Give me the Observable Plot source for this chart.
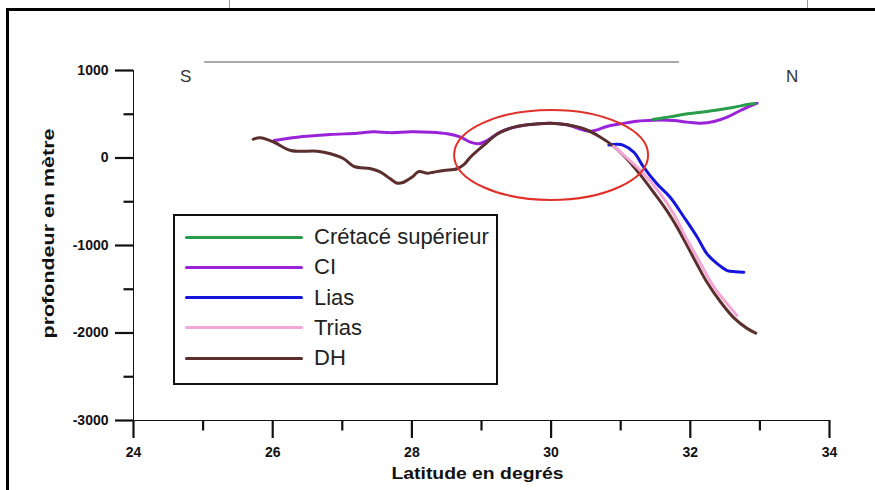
<!DOCTYPE html>
<html>
<head>
<meta charset="utf-8">
<script src="https://cdn.jsdelivr.net/npm/d3@7"></script>
<script src="https://cdn.jsdelivr.net/npm/@observablehq/plot@0.6"></script>
<style>
  html, body { margin: 0; padding: 0; background: #fff; }
  #wrap { position: relative; width: 875px; height: 490px; overflow: hidden; font-family: "Liberation Sans", Arial, sans-serif; }
  #wrap svg { position: absolute; left: 0; top: 0; }
  .frame { position: absolute; left: 6px; top: 8px; width: 880px; height: 500px; border-top: 3px solid #000; border-left: 3px solid #000; }
  .cell { position: absolute; top: 0; width: 1px; height: 8px; background: #999; }
  .gray { position: absolute; left: 204px; top: 61px; width: 475px; height: 2px; background: #aaa; }
  .dir { position: absolute; top: 67px; font-size: 17px; color: #333; }
  .legend { position: absolute; left: 173px; top: 214px; width: 321px; height: 167px; border: 2px solid #111; background: #fff; }
  .lg-line { position: absolute; left: 185px; width: 118px; height: 3px; border-radius: 2px; }
  .lg-text { position: absolute; left: 314px; font-size: 22px; color: #222; line-height: 22px; }
</style>
</head>
<body>
<div id="wrap"></div>
<script>
// ---- data ----
const seriesNames  = ["Crétacé supérieur", "CI", "Lias", "Trias", "DH"];
const seriesColors = ["#2a9d4a", "#9a22d8", "#1515dd", "#f4a6d4", "#5c2f2f"];
const drawOrder    = ["CI", "Crétacé supérieur", "Lias", "DH", "Trias"];

const cretaceLat   = [31.46, 31.70, 31.96, 32.34, 32.63, 32.82, 32.93];
const cretaceDepth = [440, 470, 505, 543, 581, 611, 622];

const ciLat   = [26.02, 26.35, 26.83, 27.21, 27.45, 27.69, 27.98, 28.27, 28.51, 28.70, 28.84, 28.96, 29.08, 29.18, 29.27, 29.42, 29.66, 29.99, 30.23, 30.45, 30.57, 30.66, 30.80, 31.00, 31.23, 31.48, 31.76, 31.96, 32.15, 32.34, 32.53, 32.72, 32.96];
const ciDepth = [200, 238, 268, 283, 300, 290, 300, 295, 277, 238, 181, 162, 200, 250, 295, 341, 379, 398, 379, 322, 306, 322, 360, 390, 421, 432, 429, 410, 398, 417, 467, 543, 626];

const liasLat   = [30.83, 30.95, 31.04, 31.19, 31.33, 31.52, 31.71, 31.91, 32.10, 32.24, 32.39, 32.53, 32.65, 32.77];
const liasDepth = [148, 156, 145, 66, -105, -295, -448, -677, -905, -1095, -1210, -1286, -1300, -1305];

const triasLat   = [30.90, 31.09, 31.33, 31.57, 31.76, 31.96, 32.15, 32.34, 32.53, 32.67];
const triasDepth = [133, 0, -181, -410, -638, -943, -1210, -1476, -1667, -1800];

const dhLat   = [25.72, 25.82, 26.02, 26.26, 26.64, 26.83, 27.02, 27.17, 27.41, 27.55, 27.69, 27.79, 27.88, 28.00, 28.10, 28.22, 28.31, 28.46, 28.65, 28.75, 28.84, 29.03, 29.23, 29.42, 29.66, 29.99, 30.23, 30.47, 30.71, 30.90, 31.09, 31.28, 31.48, 31.67, 31.81, 31.96, 32.10, 32.24, 32.43, 32.63, 32.82, 32.94];
const dhDepth = [214, 232, 180, 86, 77, 48, -9, -97, -123, -162, -238, -288, -277, -220, -154, -174, -162, -143, -123, -74, 9, 143, 277, 341, 379, 398, 379, 334, 238, 133, -10, -190, -400, -610, -790, -1010, -1220, -1420, -1640, -1830, -1950, -2002];

const ellipseCenter = [{lat: 30.0, depth: 35}];

const xTicks = [24, 26, 28, 30, 32, 34];
const xMinorTicks = [25, 27, 29, 31, 33];
const yTicks = [1000, 0, -1000, -2000, -3000];
const yMinorTicks = [500, -500, -1500, -2500];

const xLabel = "Latitude en degrés";
const yLabel = "profondeur en mètre";

// ---- build table ----
const seriesData = {
  "Crétacé supérieur": [cretaceLat, cretaceDepth],
  "CI": [ciLat, ciDepth],
  "Lias": [liasLat, liasDepth],
  "Trias": [triasLat, triasDepth],
  "DH": [dhLat, dhDepth]
};
const rows = [];
for (const name of drawOrder) {
  const [la, de] = seriesData[name];
  la.forEach((v, i) => rows.push({series: name, lat: v, depth: de[i]}));
}

// tick / annotation symbols
const tickDown = {draw(ctx) { ctx.moveTo(0, 0); ctx.lineTo(0, 10); }};
const tickLeft = {draw(ctx) { ctx.moveTo(0, 0); ctx.lineTo(-10, 0); }};
const ellipseSymbol = {draw(ctx) {
  const rx = 97, ry = 45, k = 0.5523;
  ctx.moveTo(rx, 0);
  ctx.bezierCurveTo(rx, ry * k, rx * k, ry, 0, ry);
  ctx.bezierCurveTo(-rx * k, ry, -rx, ry * k, -rx, 0);
  ctx.bezierCurveTo(-rx, -ry * k, -rx * k, -ry, 0, -ry);
  ctx.bezierCurveTo(rx * k, -ry, rx, -ry * k, rx, 0);
  ctx.closePath();
}};

const plot = Plot.plot({
  width: 875,
  height: 490,
  marginLeft: 133,
  marginRight: 46,
  marginTop: 70,
  marginBottom: 70,
  style: {fontFamily: "'Liberation Sans', Arial, sans-serif", fontSize: "14px", fontWeight: "bold", background: "transparent", color: "#111", overflow: "visible"},
  x: {domain: [24, 34], ticks: xTicks, tickSize: 18, tickPadding: 9, tickFormat: d => String(d), label: null, line: true},
  y: {domain: [-3000, 1000], ticks: yTicks, tickSize: 18, tickPadding: 7, tickFormat: d => String(d), label: null, line: true},
  color: {domain: seriesNames, range: seriesColors},
  marks: [
    Plot.dot(xMinorTicks, {x: d => d, y: () => -3000, symbol: tickDown, stroke: "#111", strokeWidth: 2.2, fill: "none"}),
    Plot.dot(yMinorTicks, {x: () => 24, y: d => d, symbol: tickLeft, stroke: "#111", strokeWidth: 2.2, fill: "none"}),
    Plot.line(rows, {x: "lat", y: "depth", z: "series", stroke: "series", strokeWidth: 3, curve: "catmull-rom"}),
    Plot.dot(ellipseCenter, {x: "lat", y: "depth", symbol: ellipseSymbol, stroke: "#e0302a", strokeWidth: 2, fill: "none"}),
    Plot.text([xLabel], {text: d => d, frameAnchor: "bottom", textAnchor: "middle", lineAnchor: "middle", dx: -4, dy: 53, fontSize: 17, fontWeight: "bold", fill: "#111"}),
    Plot.text([yLabel], {text: d => d, frameAnchor: "left", textAnchor: "middle", lineAnchor: "middle", dx: -85, dy: -12, rotate: -90, fontSize: 17, fontWeight: "bold", fill: "#111"})
  ]
});

// thicken axis strokes
d3.select(plot).selectAll('g[aria-label*="axis"] path, g[aria-label*="axis"] line').attr("stroke-width", 2.2);
// fit axis titles to the reference's lengths
d3.select(plot).selectAll("text").each(function() {
  if (this.textContent === xLabel) { this.setAttribute("textLength", 172); this.setAttribute("lengthAdjust", "spacingAndGlyphs"); }
  if (this.textContent === yLabel) { this.setAttribute("textLength", 210); this.setAttribute("lengthAdjust", "spacingAndGlyphs"); }
});

const wrap = document.getElementById("wrap");
wrap.appendChild(plot);

// decorations and legend (HTML overlay)
const deco = document.createElement("div");
deco.innerHTML = `
  <div class="frame"></div>
  <div class="cell" style="left:229px"></div>
  <div class="cell" style="left:807px"></div>
  <div class="gray"></div>
  <div class="dir" style="left:180px">S</div>
  <div class="dir" style="left:786px">N</div>
`;
wrap.appendChild(deco);

const legend = document.createElement("div");
legend.className = "legend";
wrap.appendChild(legend);
const legendTop = 237, legendStep = 30.3;
seriesNames.forEach((name, i) => {
  const y = legendTop + i * legendStep;
  const ln = document.createElement("div");
  ln.className = "lg-line";
  ln.style.top = (y - 1.5) + "px";
  ln.style.background = seriesColors[i];
  wrap.appendChild(ln);
  const tx = document.createElement("div");
  tx.className = "lg-text";
  tx.style.top = (y - 11) + "px";
  tx.textContent = name;
  wrap.appendChild(tx);
});
</script>
</body>
</html>
